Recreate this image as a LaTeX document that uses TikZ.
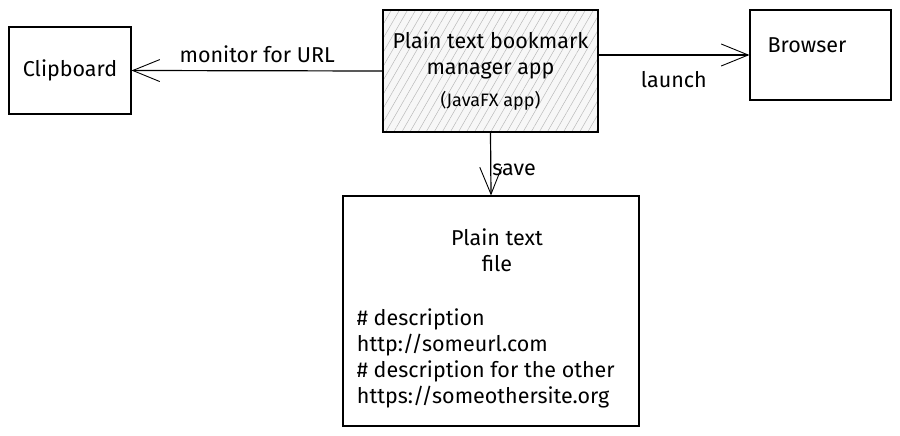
\documentclass[tikz,border=0pt]{standalone}
\usepackage{fontspec}
\setmainfont{Fira Sans}
\usetikzlibrary{arrows.meta,patterns.meta}

\begin{document}
\begin{tikzpicture}[x=1pt, y=-1pt, line width=1.2pt,
  box/.style={draw, rectangle, inner sep=0pt},
  lbl/.style={font=\fontsize{21.5}{26}\selectfont},
  link/.style={-{Straight Barb[length=27pt, width=22pt, line width=0.9pt]}}]

\useasboundingbox (0,0) rectangle (900,436);

\node [box, lbl, minimum width=122pt, minimum height=87pt] (clipboard) at (70,70.5) {Clipboard};
\node [box, lbl, minimum width=215pt, minimum height=122pt, align=center,
  preaction={fill=gray!6},
  pattern={Lines[angle=60, distance=7pt, line width=0.5pt]}, pattern color=gray!55]
  (app) at (490.5,71) {Plain text bookmark\\manager app\\[6pt]{\fontsize{18}{20}\selectfont (JavaFX app)}};
\node [box, minimum width=141pt, minimum height=90pt] (browser) at (820.5,55) {};
\node [lbl] (browsertext) at (807,45) {Browser};
\node [box, minimum width=296pt, minimum height=230pt] (file) at (491,311) {};
\node [lbl, align=center] (filetitle) at (497,250) {Plain text\\file};
\node [lbl, align=left, anchor=west] (filebody) at (353,358)
  {\# description\\http://someurl.com\\\# description for the other\\https://someothersite.org};

\draw [link] (app.west) -- (clipboard.east)
  node [lbl, midway, above=4pt] (monitorlbl) {monitor for URL};
\draw [link] (app.east |- browser.west) -- (browser.west)
  node [lbl, midway, below=12pt] (launchlbl) {launch};
\draw [link] (app.south) -- (file.north)
  node [lbl, midway, anchor=west, inner sep=1pt, yshift=-6pt] (savelbl) {save};

\end{tikzpicture}
\end{document}
